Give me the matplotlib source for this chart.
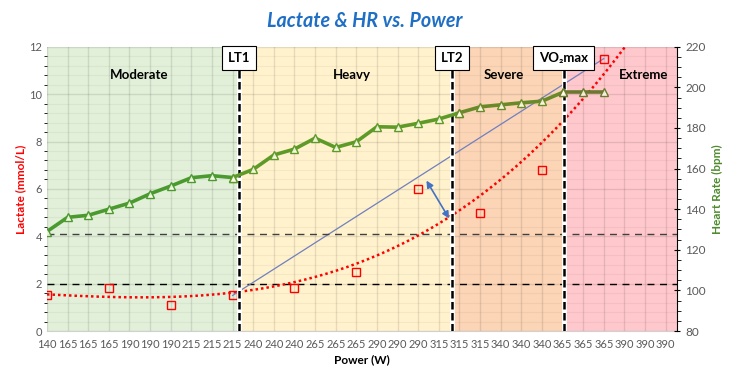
import numpy as np
import matplotlib.pyplot as plt
from matplotlib.ticker import MultipleLocator

plt.rcParams['font.family'] = ['Lato', 'DejaVu Sans']

# category axis labels (power steps, W)
power_labels = ['140'] + [str(p) for p in range(165, 391, 25) for _ in range(3)]

# heart rate, one reading per category
hr = [129, 136, 137, 140, 143, 147.6, 151.4, 155.5, 156.5, 155.6,
      159.6, 166.7, 169.6, 175, 170.4, 173.2, 180.6, 180.4, 182.3, 184.4,
      187.5, 190.4, 191.4, 192.4, 193.2, 197.5, 197.5, 197.5]

# lactate, taken at the end of every 25 W step
lac_idx = [0, 3, 6, 9, 12, 15, 18, 21, 24, 27]
lactate = [1.5, 1.8, 1.1, 1.5, 1.8, 2.5, 6.0, 5.0, 6.8, 11.5]

# thresholds (category position)
lt1, lt2, vo2max = 9.3, 19.65, 25.05
hr_line = 128
lac_line = 2.0

zones = [('Moderate', 0, lt1, '#E2F0D9'),
         ('Heavy', lt1, lt2, '#FFF2CC'),
         ('Severe', lt2, vo2max, '#FCD5B6'),
         ('Extreme', vo2max, 30.55, '#FFC8CC')]
zone_text_x = [4.45, 14.8, 22.15, 28.95]

fig = plt.figure(figsize=(7.39, 3.75), dpi=100)
ax = fig.add_axes([0.0636, 0.1173, 0.8525, 0.758])
ax2 = ax.twinx()

for (name, x0, x1, col), tx in zip(zones, zone_text_x):
    ax.axvspan(x0, x1, color=col, zorder=0, lw=0)
    ax.text(tx, 0.9, name, transform=ax.get_xaxis_transform(), ha='center', va='center',
            fontsize=9.5, fontweight='bold', zorder=10)

ax.set_xlim(0, 30.55)
ax.set_ylim(0, 12)
ax2.set_ylim(80, 220)

ax.set_xticks(range(len(power_labels)))
ax.set_xticklabels(power_labels, fontsize=7.5, color='#595959')
ax.set_yticks(range(0, 13, 2))
ax.yaxis.set_minor_locator(MultipleLocator(0.4))
ax.tick_params(axis='both', length=0, labelsize=8, colors='#595959')
ax.tick_params(axis='x', pad=6)
ax.grid(True, which='major', color='black', alpha=0.1, lw=1)
ax.grid(True, which='minor', axis='y', color='black', alpha=0.045, lw=0.8)
ax.set_axisbelow(True)
for s in ['left', 'top', 'right']:
    ax.spines[s].set_visible(False)
ax.spines['bottom'].set_color('#d0d0d0')

ax2.set_yticks(range(80, 221, 20))
ax2.yaxis.set_minor_locator(MultipleLocator(5))
ax2.tick_params(axis='y', which='major', length=5, direction='inout', labelsize=8.5,
                labelcolor='#595959', color='black')
ax2.tick_params(axis='y', which='minor', length=3, direction='out', color='black')
for s in ['left', 'top', 'bottom']:
    ax2.spines[s].set_visible(False)
ax2.spines['right'].set_color('black')

# horizontal reference lines
ax2.axhline(hr_line, color='#404040', lw=1, ls=(0, (5, 4)), zorder=2)
ax.axhline(lac_line, color='black', lw=1, ls=(0, (5, 4)), zorder=2)

# threshold lines and boxes
for x, label in [(lt1, 'LT1'), (lt2, 'LT2'), (vo2max, 'VO₂max')]:
    ax2.axvline(x, ymin=0, ymax=0.92, color='white', lw=3.5, zorder=3)
    ax2.axvline(x, ymin=0, ymax=0.92, color='black', lw=1.8, ls=(0, (3, 1.4)), zorder=3)
    ax2.text(x, 0.96, label, transform=ax2.get_xaxis_transform(), ha='center', va='center',
             fontsize=9.5, fontweight='bold', zorder=12, clip_on=False,
             bbox=dict(boxstyle='square,pad=0.45', fc='white', ec='black', lw=0.8))

# lactate trendline (3rd order polynomial) and Dmax line
coef = np.polyfit(lac_idx, lactate, 3)
xs = np.linspace(0, 30.5, 300)
ax.plot(xs, np.polyval(coef, xs), color='red', lw=1.8, ls=(0, (1, 1.2)), zorder=4)
ax.plot([lac_idx[3], lac_idx[-1]], [lactate[3], lactate[-1]], color='#7080C0', lw=0.9, zorder=4)
ax.plot(lac_idx, lactate, ls='none', marker='s', ms=5.5, mfc='none', mec='red', mew=1, zorder=5)
ax.annotate('', xy=(18.4, 6.35), xytext=(19.5, 4.75),
            arrowprops=dict(arrowstyle='<|-|>', color='#4472C4', lw=1.2,
                            mutation_scale=10, shrinkA=0, shrinkB=0), zorder=6)

# heart rate line, coloured by zone
seg_cols = [(0, 9, '#4A9A30'), (9, 20, '#5E9A28'), (20, 25, '#6A8A2A'), (25, 27, '#6B7830')]
idx = np.arange(len(hr))
for a, b, col in seg_cols:
    ax2.plot(idx[a:b + 1], hr[a:b + 1], color=col, lw=2.6, zorder=7, solid_capstyle='round')
    ax2.plot(idx[a:b + 1], hr[a:b + 1], ls='none', marker='^', ms=6,
             mfc=(1, 1, 0.92, 0.85), mec=col, mew=1, zorder=8)

fig.text(0.494, 0.945, 'Lactate & HR vs. Power', ha='center', va='center',
         fontsize=14.2, fontweight='bold', style='italic', color='#1F6FC5')
ax.set_ylabel('Lactate (mmol/L)', color='red', fontsize=8.5, fontweight='bold', labelpad=2)
ax2.set_ylabel('Heart Rate (bpm)', color='#4E8A2E', fontsize=8.5, fontweight='bold', labelpad=4)
ax.set_xlabel('Power (W)', fontsize=8.5, fontweight='bold', labelpad=3)

fig.savefig('out.png', dpi=100)
